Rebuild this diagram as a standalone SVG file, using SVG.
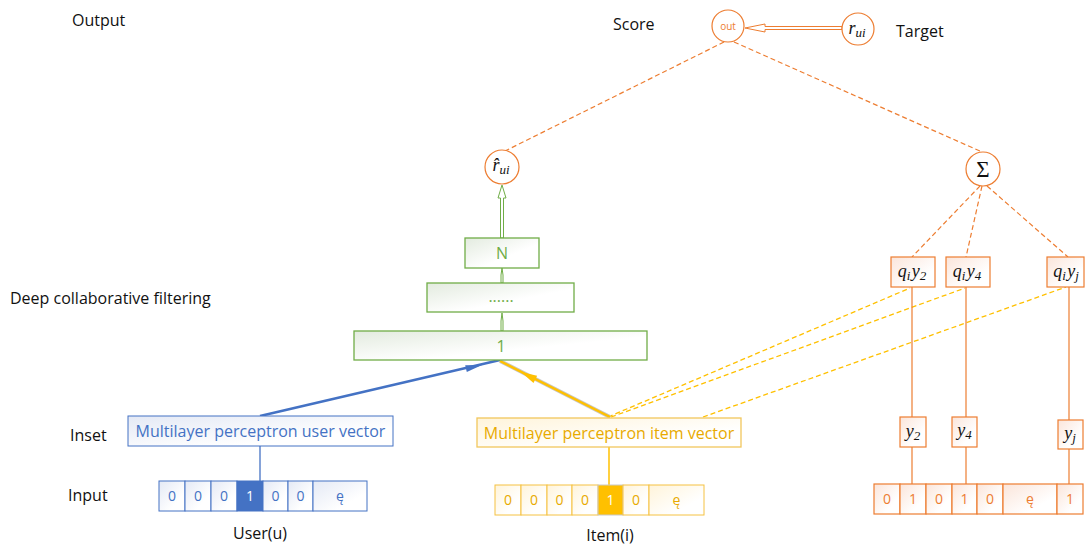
<svg xmlns="http://www.w3.org/2000/svg" width="1085" height="545" viewBox="0 0 1085 545">
<defs>
<linearGradient id="gG" x1="0" y1="0" x2="1" y2="1"><stop offset="0" stop-color="#E3EBDF"/><stop offset="0.6" stop-color="#FFFFFF"/></linearGradient>
<linearGradient id="gB" x1="0" y1="0" x2="1" y2="1"><stop offset="0" stop-color="#E4E9F5"/><stop offset="0.7" stop-color="#FFFFFF"/></linearGradient>
<linearGradient id="gY" x1="0" y1="0" x2="1" y2="1"><stop offset="0" stop-color="#FFF4DA"/><stop offset="0.7" stop-color="#FFFFFF"/></linearGradient>
<linearGradient id="gO" x1="0" y1="0" x2="1" y2="1"><stop offset="0" stop-color="#FBE5DA"/><stop offset="0.7" stop-color="#FFFFFF"/></linearGradient>
<style>
.lbl{font-family:"Open Sans","Noto Sans",sans-serif;font-size:16px;fill:#111}
.math{font-family:"Liberation Serif",serif;font-style:italic;fill:#111}
.cell{font-family:"Open Sans","Noto Sans",sans-serif;font-size:14px;text-anchor:middle}
.gbox{fill:url(#gG);stroke:#70AD47;stroke-width:1.3}
.gtxt{font-family:"Open Sans","Noto Sans",sans-serif;font-size:16px;fill:#70AD47;text-anchor:middle}
.bcell{fill:url(#gB);stroke:#4472C4;stroke-width:1}
.ycell{fill:url(#gY);stroke:#F5C242;stroke-width:1}
.ocell{fill:url(#gO);stroke:#ED7D31;stroke-width:1.2}
.ocirc{fill:#fff;stroke:#ED7D31;stroke-width:1.2}
.odash{stroke:#ED7D31;stroke-width:1.2;stroke-dasharray:5,3;fill:none}
.ydash{stroke:#FFC000;stroke-width:1.3;stroke-dasharray:5,3;fill:none}
.oline{stroke:#ED7D31;stroke-width:1.2;fill:none}
</style>
</defs>
<rect width="1085" height="545" fill="#fff"/>

<g id="labels">
<text class="lbl" x="72" y="26">Output</text>
<text class="lbl" x="613" y="30">Score</text>
<text class="lbl" x="896" y="37">Target</text>
<text class="lbl" x="10" y="304">Deep collaborative filtering</text>
<text class="lbl" x="70" y="441">Inset</text>
<text class="lbl" x="68" y="501">Input</text>
<text class="lbl" x="260" y="539" text-anchor="middle">User(u)</text>
<text class="lbl" x="610" y="541" text-anchor="middle">Item(i)</text>
</g>

<g id="connectors">
<line class="odash" x1="724" y1="42" x2="505" y2="151"/>
<line class="odash" x1="734" y1="42" x2="982" y2="152"/>
<line class="odash" x1="980" y1="186" x2="912" y2="257"/>
<line class="odash" x1="982" y1="186" x2="966" y2="257"/>
<line class="odash" x1="987" y1="186" x2="1068" y2="257"/>
<line class="ydash" x1="608" y1="417" x2="910" y2="288"/>
<line class="ydash" x1="611" y1="417" x2="965" y2="288"/>
<line class="ydash" x1="703" y1="417" x2="1066" y2="287"/>
<line class="oline" x1="912" y1="287" x2="912" y2="417"/>
<line class="oline" x1="912" y1="447" x2="912" y2="484"/>
<line class="oline" x1="966" y1="287" x2="966" y2="417"/>
<line class="oline" x1="966" y1="447" x2="966" y2="484"/>
<line class="oline" x1="1069" y1="287" x2="1069" y2="420"/>
<line class="oline" x1="1069" y1="449" x2="1069" y2="484"/>
<line x1="260" y1="446" x2="260" y2="481" stroke="#4472C4" stroke-width="1.3"/>
<line x1="609" y1="447" x2="609" y2="485" stroke="#FFC000" stroke-width="1.5"/>
<line x1="260" y1="416" x2="500" y2="360" stroke="#4472C4" stroke-width="2.5"/>
<polygon points="482,365 466.8,372.1 465.2,365.3" fill="#4472C4"/>
<line x1="610" y1="417" x2="500" y2="361" stroke="#C8C8C8" stroke-width="4"/>
<line x1="610" y1="417" x2="500" y2="361" stroke="#FFC000" stroke-width="2.5"/>
<polygon points="521,372 537.1,375.7 533.5,382.9" fill="#FFC000"/>
<path d="M842,26.5 L765,26.5 L765,24 L745,28 L765,32 L765,29.5 L842,29.5 Z" fill="#fff" stroke="#ED7D31" stroke-width="1"/>
<path d="M500.5,238 L500.5,198 L498,198 L502,185 L506,198 L503.5,198 L503.5,238 Z" fill="#fff" stroke="#70AD47" stroke-width="1"/>
<path d="M501,283 L501,275 L502,268 L503,275 L503,283 Z" fill="#fff" stroke="#70AD47" stroke-width="1"/>
<path d="M501,331 L501,321 L502,313 L503,321 L503,331 Z" fill="#fff" stroke="#70AD47" stroke-width="1"/>
</g>

<g id="node-out">
<circle class="ocirc" cx="728" cy="26" r="16"/>
<text x="728" y="29.5" text-anchor="middle" font-family="Open Sans,sans-serif" font-size="10" fill="#ED7D31">out</text>
</g>
<g id="node-rui">
<circle class="ocirc" cx="858" cy="29" r="16"/>
<text class="math" x="857" y="34" text-anchor="middle" font-size="18">r<tspan font-size="13" dy="3">ui</tspan></text>
</g>
<g id="node-rhat">
<circle class="ocirc" cx="502" cy="167" r="17"/>
<text class="math" x="501" y="171" text-anchor="middle" font-size="18">r̂<tspan font-size="13" dy="3">ui</tspan></text>
</g>
<g id="node-sigma">
<circle class="ocirc" cx="983" cy="169" r="17"/>
<text x="983" y="177" text-anchor="middle" font-family="Liberation Serif,serif" font-size="23" fill="#111">Σ</text>
</g>

<g id="node-N">
<rect class="gbox" x="465" y="238" width="74" height="30"/>
<text class="gtxt" x="502" y="259">N</text>
</g>
<g id="node-dots">
<rect class="gbox" x="427" y="283" width="147" height="29"/>
<text class="gtxt" x="501" y="302">......</text>
</g>
<g id="node-1">
<rect class="gbox" x="354" y="331" width="293" height="29"/>
<text class="gtxt" x="501" y="352">1</text>
</g>

<g id="node-user-vector">
<rect x="128" y="416" width="265" height="30" fill="url(#gB)" stroke="#4472C4" stroke-width="1"/>
<text x="260.5" y="437" text-anchor="middle" font-family="Open Sans,sans-serif" font-size="16" fill="#4472C4">Multilayer perceptron user vector</text>
</g>
<g id="node-item-vector">
<rect x="477" y="418" width="264" height="29" fill="url(#gY)" stroke="#F2C75C" stroke-width="1.3"/>
<text x="609" y="438.5" text-anchor="middle" font-family="Open Sans,sans-serif" font-size="16" fill="#E8AA00">Multilayer perceptron item vector</text>
</g>

<g id="node-user-input">
<rect class="bcell" x="159" y="481" width="26" height="30"/>
<rect class="bcell" x="185" y="481" width="26" height="30"/>
<rect class="bcell" x="211" y="481" width="26" height="30"/>
<rect x="237" y="481" width="26" height="30" fill="#4472C4" stroke="#4472C4"/>
<rect class="bcell" x="263" y="481" width="25" height="30"/>
<rect class="bcell" x="288" y="481" width="25" height="30"/>
<rect class="bcell" x="313" y="481" width="54" height="30"/>
<g class="cell" fill="#4472C4">
<text x="172" y="501">0</text><text x="198" y="501">0</text><text x="224" y="501">0</text>
<text x="250" y="501" fill="#fff">1</text><text x="275.5" y="501">0</text><text x="300.5" y="501">0</text><text x="340" y="501">ę</text>
</g>
</g>

<g id="node-item-input">
<rect class="ycell" x="495" y="485" width="26" height="30"/>
<rect class="ycell" x="521" y="485" width="26" height="30"/>
<rect class="ycell" x="547" y="485" width="25" height="30"/>
<rect class="ycell" x="572" y="485" width="26" height="30"/>
<rect x="598" y="485" width="25" height="30" fill="#FFC000" stroke="#C9C9C9"/>
<rect class="ycell" x="623" y="485" width="26" height="30"/>
<rect class="ycell" x="649" y="485" width="55" height="30"/>
<g class="cell" fill="#E8AA00">
<text x="508" y="505">0</text><text x="534" y="505">0</text><text x="559.5" y="505">0</text><text x="585" y="505">0</text>
<text x="610.5" y="505" fill="#fff">1</text><text x="636" y="505">0</text><text x="676.5" y="505">ę</text>
</g>
</g>

<g id="node-q2">
<rect class="ocell" x="891" y="257" width="44" height="30"/>
<text class="math" x="912" y="277" text-anchor="middle" font-size="18">q<tspan font-size="13" dy="3">i</tspan><tspan dx="1.5" dy="-3">y</tspan><tspan font-size="13" dy="3">2</tspan></text>
</g>
<g id="node-q4">
<rect class="ocell" x="946" y="257" width="44" height="30"/>
<text class="math" x="967" y="277" text-anchor="middle" font-size="18">q<tspan font-size="13" dy="3">i</tspan><tspan dx="1.5" dy="-3">y</tspan><tspan font-size="13" dy="3">4</tspan></text>
</g>
<g id="node-qj">
<rect class="ocell" x="1047" y="257" width="37" height="30"/>
<text class="math" x="1066" y="277" text-anchor="middle" font-size="18">q<tspan font-size="13" dy="3">i</tspan><tspan dx="1.5" dy="-3">y</tspan><tspan font-size="13" dy="3">j</tspan></text>
</g>
<g id="node-y2">
<rect class="ocell" x="900" y="417" width="26" height="30"/>
<text class="math" x="913" y="437" text-anchor="middle" font-size="18">y<tspan font-size="13" dy="3">2</tspan></text>
</g>
<g id="node-y4">
<rect class="ocell" x="952" y="417" width="25" height="30"/>
<text class="math" x="964.5" y="436" text-anchor="middle" font-size="18">y<tspan font-size="13" dy="3">4</tspan></text>
</g>
<g id="node-yj">
<rect class="ocell" x="1058" y="420" width="25" height="29"/>
<text class="math" x="1070" y="439" text-anchor="middle" font-size="18">y<tspan font-size="13" dy="3">j</tspan></text>
</g>

<g id="node-y-input">
<rect class="ocell" x="874" y="484" width="26" height="30"/>
<rect class="ocell" x="900" y="484" width="26" height="30"/>
<rect class="ocell" x="926" y="484" width="26" height="30"/>
<rect class="ocell" x="952" y="484" width="25" height="30"/>
<rect class="ocell" x="977" y="484" width="26" height="30"/>
<rect class="ocell" x="1003" y="484" width="54" height="30"/>
<rect class="ocell" x="1057" y="484" width="26" height="30"/>
<g class="cell" fill="#ED7D31">
<text x="887" y="504">0</text><text x="913" y="504">1</text><text x="939" y="504">0</text><text x="964.5" y="504">1</text>
<text x="990" y="504">0</text><text x="1030" y="504">ę</text><text x="1070" y="504">1</text>
</g>
</g>
</svg>
